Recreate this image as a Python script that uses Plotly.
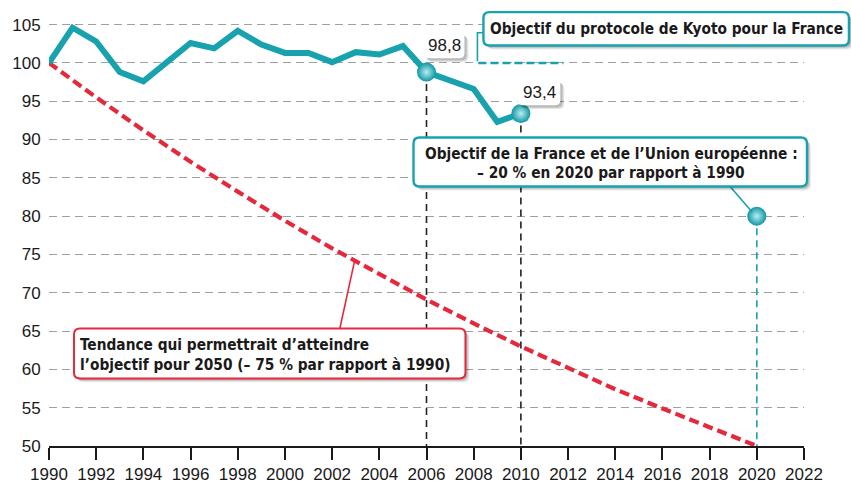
import plotly.graph_objects as go

# Greenhouse-gas emissions of France, index base 100 in 1990
years = list(range(1990, 2011))
emissions = [100, 104.6, 102.8, 98.8, 97.6, 100.1, 102.6, 101.9, 104.2, 102.4,
             101.3, 101.3, 100.1, 101.4, 101.1, 102.2, 98.8, 97.7, 96.6, 92.3, 93.4]

# Trend that would reach -75 % in 2050
trend_years = list(range(1990, 2021, 2))
trend_values = [100, 95.5, 91.2, 87.1, 83.2, 79.4, 75.8, 72.4, 69.1, 66.0,
                63.0, 60.2, 57.4, 54.9, 52.4, 50.0]

# Kyoto target (stabilisation over the commitment period)
kyoto_years = [2008.2, 2011.8]
kyoto_value = 100

# Highlighted points
highlight_years = [2006, 2010]
highlight_values = [98.8, 93.4]
highlight_labels = ["98,8", "93,4"]
eu_year = 2020
eu_value = 80

x_ticks = list(range(1990, 2023, 2))
y_ticks = list(range(50, 106, 5))

TEAL = "#17a2ae"
RED = "#e6283c"
FIG_W, FIG_H = 851, 496
M_L, M_R, M_T, M_B = 48, 47, 20, 41
PW = FIG_W - M_L - M_R
PH = FIG_H - M_T - M_B
NARROW = "DejaVu Sans Condensed"
BASE = "Liberation Sans"


def px(x):
    return (x - M_L) / PW


def py(y):
    return (FIG_H - M_B - y) / PH


def rounded_path(x0, y0, x1, y1, r):
    pts = [
        ("M", [(x0 + r, y0)]),
        ("L", [(x1 - r, y0)]),
        ("Q", [(x1, y0), (x1, y0 + r)]),
        ("L", [(x1, y1 - r)]),
        ("Q", [(x1, y1), (x1 - r, y1)]),
        ("L", [(x0 + r, y1)]),
        ("Q", [(x0, y1), (x0, y1 - r)]),
        ("L", [(x0, y0 + r)]),
        ("Q", [(x0, y0), (x0 + r, y0)]),
    ]
    out = []
    for cmd, coords in pts:
        out.append(cmd + " " + " ".join(f"{px(a):.5f},{py(b):.5f}" for a, b in coords))
    return " ".join(out) + " Z"


shapes = []


def add_box(x0, y0, x1, y1, border, bw=2.2, r=6):
    for off, op in ((4, 0.08), (3, 0.10), (2, 0.12)):
        shapes.append(dict(type="path", xref="paper", yref="paper", layer="above",
                           path=rounded_path(x0 + off, y0 + off, x1 + off, y1 + off, r),
                           fillcolor=f"rgba(0,0,0,{op})", line=dict(width=0)))
    shapes.append(dict(type="path", xref="paper", yref="paper", layer="above",
                       path=rounded_path(x0, y0, x1, y1, r), fillcolor="white",
                       line=dict(color=border, width=bw)))


def add_line(points, color, width=1.6, dash="solid"):
    path = "M " + " L ".join(f"{px(a):.5f},{py(b):.5f}" for a, b in points)
    shapes.append(dict(type="path", xref="paper", yref="paper", layer="above",
                       path=path, line=dict(color=color, width=width, dash=dash)))


fig = go.Figure()

# Trend line
fig.add_trace(go.Scatter(x=trend_years, y=trend_values, mode="lines",
                         line=dict(color=RED, width=4.2, dash="10px,5px"),
                         hoverinfo="skip"))

# Vertical guides down to the axis
for yr, val in zip(highlight_years, highlight_values):
    fig.add_trace(go.Scatter(x=[yr, yr], y=[val, 50], mode="lines",
                             line=dict(color="#222222", width=1.6, dash="7px,5px"),
                             hoverinfo="skip"))
fig.add_trace(go.Scatter(x=[eu_year, eu_year], y=[eu_value, 50], mode="lines",
                         line=dict(color=TEAL, width=1.6, dash="7px,5px"),
                         hoverinfo="skip"))

# Kyoto target segment
fig.add_trace(go.Scatter(x=kyoto_years, y=[kyoto_value] * len(kyoto_years), mode="lines",
                         line=dict(color=TEAL, width=2.5, dash="8px,4px"),
                         hoverinfo="skip"))

# Emissions
fig.add_trace(go.Scatter(x=years, y=emissions, mode="lines",
                         line=dict(color=TEAL, width=6, shape="linear"),
                         hoverinfo="skip"))

# Highlight spheres
fig.add_trace(go.Scatter(x=highlight_years + [eu_year], y=highlight_values + [eu_value],
                         mode="markers",
                         marker=dict(size=19, color="#0f97a3",
                                     gradient=dict(type="radial", color="#b8eef2"),
                                     line=dict(width=0)),
                         hoverinfo="skip"))

annotations = []

# Kyoto box
add_line([(483, 33), (477, 33), (477, 62)], TEAL, 1.6)
add_box(483, 12, 849, 46, TEAL, 2.4)
annotations.append(dict(text="<b>Objectif du protocole de Kyoto pour la France</b>",
                        x=px(666), y=py(29)))

# EU box
add_line([(730, 190), (752, 216)], TEAL, 1.6)
add_box(413, 140, 807, 190, TEAL, 2.4)
annotations.append(dict(text="<b>Objectif de la France et de l’Union européenne :</b>",
                        x=px(611), y=py(157)))
annotations.append(dict(text="<b>– 20 % en 2020 par rapport à 1990</b>",
                        x=px(611), y=py(176)))

# Trend box
add_line([(339, 336), (354, 266)], RED, 1.6)
add_box(73, 335, 465, 386, RED, 2.0)
annotations.append(dict(text="<b>Tendance qui permettrait d’atteindre</b>",
                        x=px(77), y=py(352), xanchor="left"))
annotations.append(dict(text="<b>l’objectif pour 2050 (– 75 % par rapport à 1990)</b>",
                        x=px(77), y=py(372), xanchor="left"))

# Value labels
add_box(423, 33, 464, 59, "rgba(0,0,0,0)", 0, 5)
add_box(517, 81, 560, 107, "rgba(0,0,0,0)", 0, 5)
label_pos = [(444, 46), (539, 94)]
for (lx, ly), lab in zip(label_pos, highlight_labels):
    annotations.append(dict(text=lab, x=px(lx), y=py(ly),
                            font=dict(family=BASE, size=17, color="#1a1a1a")))

for a in annotations:
    a.setdefault("xref", "paper")
    a.setdefault("yref", "paper")
    a.setdefault("showarrow", False)
    a.setdefault("xanchor", "center")
    a.setdefault("yanchor", "middle")
    a.setdefault("font", dict(family=NARROW, size=15.3, color="#1a1a1a"))

fig.update_layout(
    width=FIG_W, height=FIG_H,
    margin=dict(l=M_L, r=M_R, t=M_T, b=M_B),
    paper_bgcolor="white", plot_bgcolor="white",
    showlegend=False,
    shapes=shapes,
    annotations=annotations,
    xaxis=dict(range=[1990, 2022], tickvals=x_ticks, ticktext=[str(t) for t in x_ticks],
               showgrid=False, zeroline=False, showline=True, linecolor="#1a1a1a",
               linewidth=1.5, ticks="outside", ticklen=12, tickwidth=1.5,
               tickcolor="#1a1a1a", tickfont=dict(family=BASE, size=17, color="#1a1a1a")),
    yaxis=dict(range=[50, 105.6], tickvals=y_ticks, ticktext=[str(t) for t in y_ticks],
               showgrid=True, gridcolor="#a0a0a0", gridwidth=1.4, griddash="8px,5px",
               zeroline=False, showline=False, ticks="outside", ticklen=4,
               tickcolor="rgba(0,0,0,0)", tickfont=dict(family=BASE, size=17, color="#1a1a1a")),
)

fig.write_html("out.html")
